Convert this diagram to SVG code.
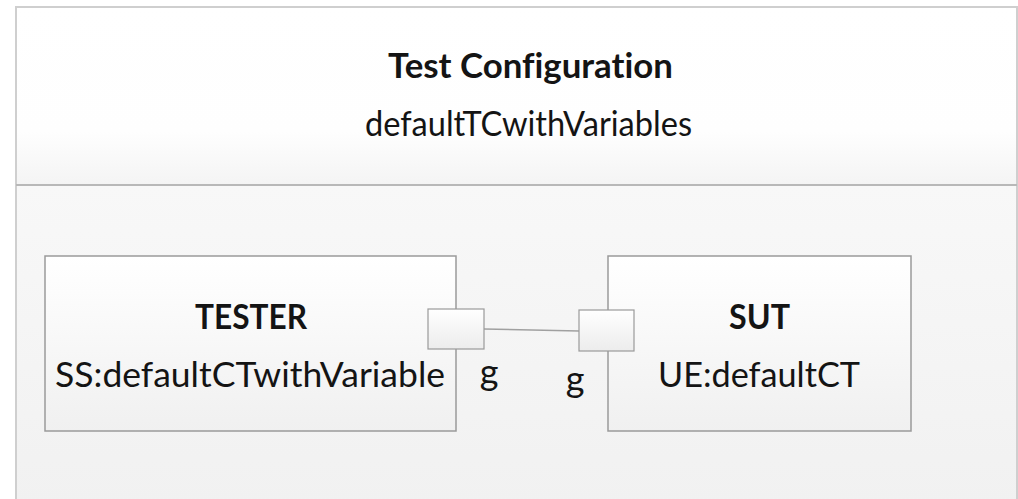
<svg xmlns="http://www.w3.org/2000/svg" width="1018" height="499" viewBox="0 0 1018 499">
  <style>
    .lbl { font-family: Lato, "Open Sans", "Liberation Sans", sans-serif; fill: #141414; text-anchor: middle; font-variant-ligatures: none; }
    .bold { font-weight: bold; }
    .frame { fill: none; stroke: #cfcfcf; stroke-width: 2; }
    .part { fill: url(#partFill); stroke: #9a9a9a; stroke-width: 1.5; }
    .port { fill: url(#portFill); stroke: #9a9a9a; stroke-width: 1.2; }
    .wire { fill: none; stroke: #a0a0a0; stroke-width: 1.5; }
  </style>
  <defs>
    <linearGradient id="headFill" x1="0" y1="0" x2="0" y2="1">
      <stop offset="0" stop-color="#ffffff"/>
      <stop offset="0.7" stop-color="#fefefe"/>
      <stop offset="1" stop-color="#f4f4f4"/>
    </linearGradient>
    <linearGradient id="bodyFill" x1="0" y1="0" x2="0" y2="1">
      <stop offset="0" stop-color="#f8f8f8"/>
      <stop offset="1" stop-color="#f1f1f1"/>
    </linearGradient>
    <linearGradient id="partFill" x1="0" y1="0" x2="0" y2="1">
      <stop offset="0" stop-color="#ffffff"/>
      <stop offset="1" stop-color="#f0f0f0"/>
    </linearGradient>
    <linearGradient id="portFill" x1="0" y1="0" x2="0" y2="1">
      <stop offset="0" stop-color="#ffffff"/>
      <stop offset="1" stop-color="#ececec"/>
    </linearGradient>
  </defs>

  <rect width="1018" height="499" fill="#ffffff"/>

  <!-- Test configuration frame -->
  <g id="test-configuration">
    <rect x="16" y="7" width="1001" height="178" fill="url(#headFill)"/>
    <rect x="16" y="185" width="1001" height="320" fill="url(#bodyFill)"/>
    <rect x="16" y="7" width="1001" height="498" class="frame"/>
    <line x1="16" y1="185" x2="1017" y2="185" stroke="#b8b8b8" stroke-width="2"/>
    <text class="lbl bold" x="530.5" y="78" font-size="34" textLength="285" lengthAdjust="spacingAndGlyphs">Test Configuration</text>
    <text class="lbl" x="528.5" y="136" font-size="34" textLength="327" lengthAdjust="spacingAndGlyphs">defaultTCwithVariables</text>
  </g>

  <!-- TESTER component -->
  <g id="tester">
    <rect x="45" y="256" width="411" height="175" class="part"/>
    <text class="lbl bold" x="251" y="329" font-size="34" textLength="112" lengthAdjust="spacingAndGlyphs">TESTER</text>
    <text class="lbl" x="250" y="387" font-size="34" textLength="390" lengthAdjust="spacingAndGlyphs">SS:defaultCTwithVariable</text>
  </g>

  <!-- SUT component -->
  <g id="sut">
    <rect x="608" y="256" width="303" height="175" class="part"/>
    <text class="lbl bold" x="759.5" y="329" font-size="34" textLength="61" lengthAdjust="spacingAndGlyphs">SUT</text>
    <text class="lbl" x="759" y="387" font-size="34" textLength="202" lengthAdjust="spacingAndGlyphs">UE:defaultCT</text>
  </g>

  <!-- Connector between the two g ports -->
  <g id="connectors">
    <line x1="484" y1="329" x2="579" y2="331" class="wire"/>
  </g>

  <!-- Ports -->
  <g id="tester-port-g">
    <rect x="428" y="309" width="56" height="40" class="port"/>
    <text class="lbl" x="489" y="385" font-size="36">g</text>
  </g>
  <g id="sut-port-g">
    <rect x="579" y="310" width="55" height="41" class="port"/>
    <text class="lbl" x="575" y="392" font-size="36">g</text>
  </g>
</svg>
